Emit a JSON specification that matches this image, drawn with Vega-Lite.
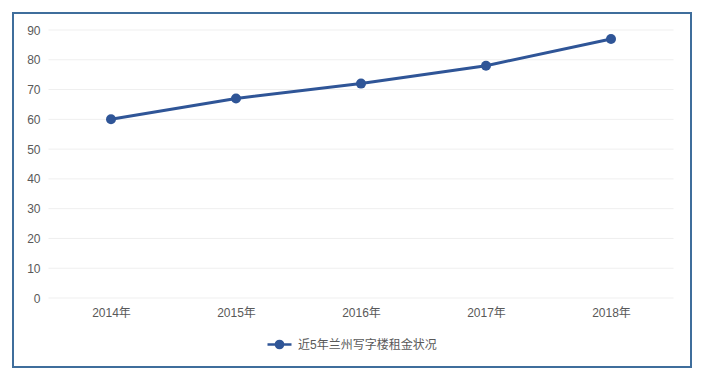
{
  "$schema": "https://vega.github.io/schema/vega-lite/v6.json",
  "width": 678,
  "height": 354,
  "autosize": "none",
  "padding": {"left": 13, "top": 13, "right": 12, "bottom": 11},
  "background": "#ffffff",
  "config": {
    "view": {"stroke": "#3f6e9c", "strokeWidth": 2},
    "font": "Liberation Sans, Noto Sans CJK SC",
    "axis": {"labelFont": "Liberation Sans, Noto Sans CJK SC", "labelFontSize": 12, "labelColor": "#595959", "labelOverlap": false},
    "legend": {"labelFont": "Liberation Sans, Noto Sans CJK SC", "labelFontSize": 12, "labelColor": "#595959"}
  },
  "datasets": {
    "rent": [
      {"year": "2014年", "value": 60, "series": "近5年兰州写字楼租金状况"},
      {"year": "2015年", "value": 67, "series": "近5年兰州写字楼租金状况"},
      {"year": "2016年", "value": 72, "series": "近5年兰州写字楼租金状况"},
      {"year": "2017年", "value": 78, "series": "近5年兰州写字楼租金状况"},
      {"year": "2018年", "value": 87, "series": "近5年兰州写字楼租金状况"}
    ],
    "grid": [
      {"v": 0}, {"v": 10}, {"v": 20}, {"v": 30}, {"v": 40},
      {"v": 50}, {"v": 60}, {"v": 70}, {"v": 80}, {"v": 90}
    ]
  },
  "layer": [
    {
      "data": {"name": "grid"},
      "mark": {"type": "rule", "color": "#efefef", "strokeWidth": 1, "xOffset": -62.5, "x2Offset": 62.5},
      "encoding": {
        "y": {
          "field": "v", "type": "quantitative",
          "scale": {"domain": [0, 90], "range": [285, 17], "nice": false},
          "axis": {"title": null, "offset": -35, "domain": false, "ticks": false, "tickSize": 0, "labelPadding": 8, "grid": false, "values": [0, 10, 20, 30, 40, 50, 60, 70, 80, 90]}
        },
        "x": {
          "datum": "2014年", "type": "ordinal",
          "scale": {"type": "point", "padding": 0, "domain": ["2014年", "2015年", "2016年", "2017年", "2018年"], "range": [98, 598]},
          "axis": {"title": null, "orient": "bottom", "offset": -69, "domain": false, "ticks": false, "tickSize": 0, "labelPadding": 9, "labelAngle": 0, "grid": false}
        },
        "x2": {"datum": "2018年"}
      }
    },
    {
      "data": {"name": "rent"},
      "mark": {"type": "line", "strokeWidth": 3, "point": {"filled": true, "size": 100}},
      "encoding": {
        "x": {
          "field": "year", "type": "ordinal",
          "scale": {"type": "point", "padding": 0, "domain": ["2014年", "2015年", "2016年", "2017年", "2018年"], "range": [98, 598]},
          "axis": {"title": null, "orient": "bottom", "offset": -69, "domain": false, "ticks": false, "tickSize": 0, "labelPadding": 9, "labelAngle": 0, "grid": false}
        },
        "y": {
          "field": "value", "type": "quantitative",
          "scale": {"domain": [0, 90], "range": [285, 17], "nice": false},
          "axis": {"title": null, "offset": -35, "domain": false, "ticks": false, "tickSize": 0, "labelPadding": 8, "grid": false, "values": [0, 10, 20, 30, 40, 50, 60, 70, 80, 90]}
        },
        "color": {
          "field": "series", "type": "nominal",
          "scale": {"range": ["#2f5597"]},
          "legend": {
            "title": null,
            "orient": "none",
            "legendX": 253,
            "legendY": 318,
            "padding": 0,
            "symbolType": "M-1,0H1M-0.3,0A0.3,0.3,0,1,0,0.3,0A0.3,0.3,0,1,0,-0.3,0Z",
            "symbolSize": 576,
            "symbolStrokeWidth": 2.5,
            "symbolFillColor": "#2f5597",
            "symbolStrokeColor": "#2f5597",
            "labelOffset": 5
          }
        }
      }
    }
  ]
}
